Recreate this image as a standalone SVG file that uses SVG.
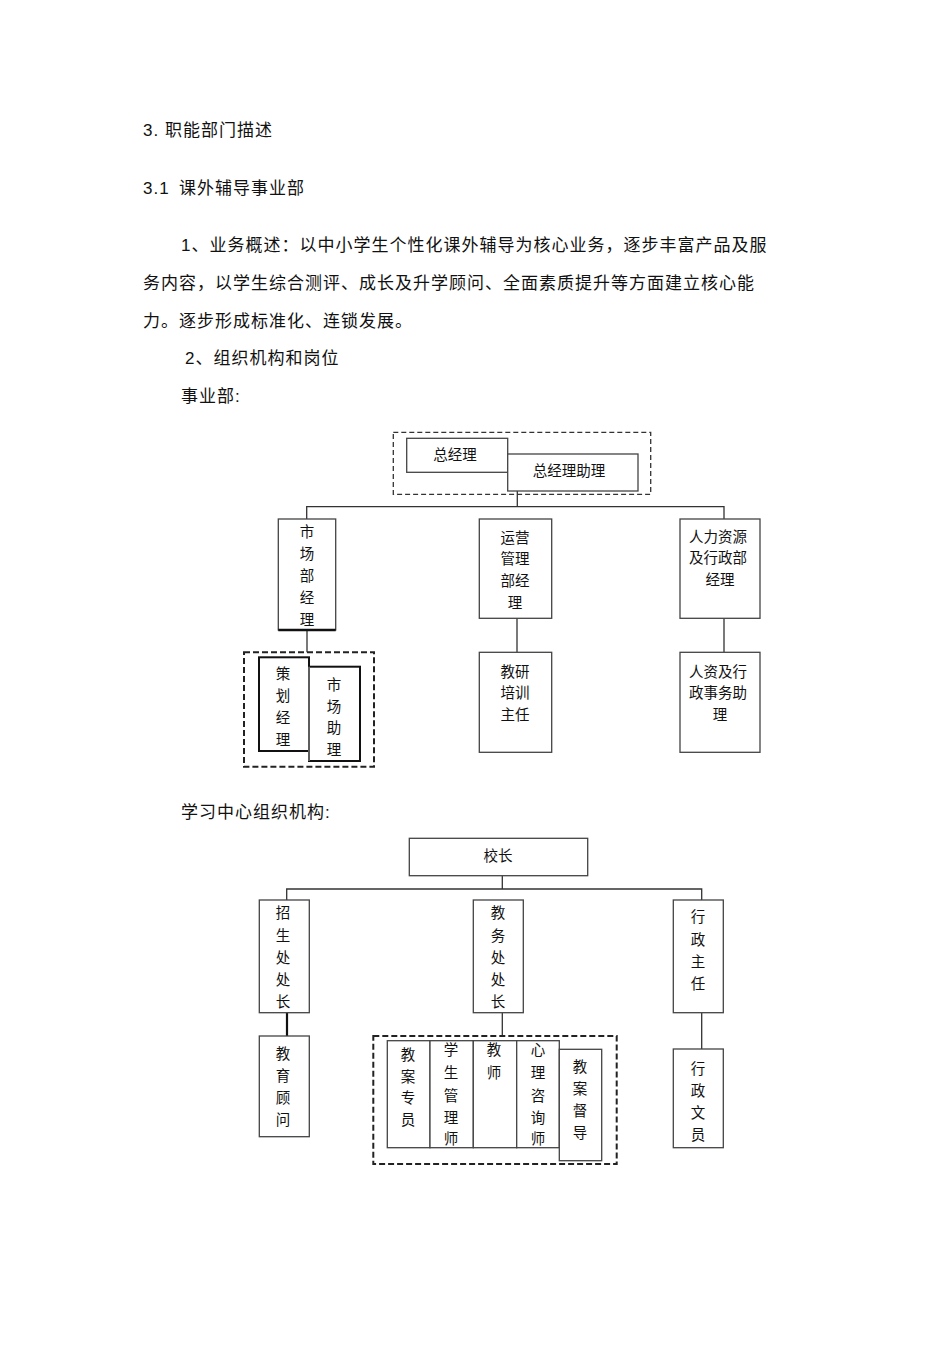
<svg xmlns="http://www.w3.org/2000/svg" width="950" height="1345" viewBox="0 0 950 1345">
<style>
text{font-family:"Liberation Sans","Noto Sans CJK SC",sans-serif;fill:#111}
.p{font-size:17px;letter-spacing:1px}
.b{font-size:14.5px;text-anchor:middle;dominant-baseline:central}
.box{fill:#fff;stroke:#444;stroke-width:1.3}
.thick{fill:#fff;stroke:#111;stroke-width:2}
.dash{fill:none;stroke:#333;stroke-width:1.3;stroke-dasharray:5,3}
.dash2{fill:none;stroke:#222;stroke-width:2;stroke-dasharray:6,3}
.ln{fill:none;stroke:#333;stroke-width:1.3}
</style>
<rect width="950" height="1345" fill="#fff"/>
<g id="text">
<text class="p" x="143" y="136">3. 职能部门描述</text>
<text class="p" x="143" y="194">3.1<tspan x="179">课外辅导事业部</tspan></text>
<text class="p" x="181" y="251">1、业务概述：以中小学生个性化课外辅导为核心业务，逐步丰富产品及服</text>
<text class="p" x="143" y="289">务内容，以学生综合测评、成长及升学顾问、全面素质提升等方面建立核心能</text>
<text class="p" x="143" y="327">力。逐步形成标准化、连锁发展。</text>
<text class="p" x="185" y="364">2、组织机构和岗位</text>
<text class="p" x="181" y="402">事业部:</text>
<text class="p" x="181" y="818">学习中心组织机构:</text>
</g>
<g id="connectors">
<path class="ln" d="M517.3 491V506.7M306.7 519V506.7H724V519"/>
<path class="ln" d="M307 630V652.3M517 618.3V652.3M724 618.3V652.3"/>
<path class="ln" d="M502.3 875.7V889M286.7 900V889H701.7V900"/>
<path class="ln" d="M502.3 1012.7V1036M701.7 1012.7V1049"/>
<path fill="none" stroke="#111" stroke-width="2.2" d="M287 1012.7V1036"/>
</g>
<g id="n-gm-group">
<rect class="dash" x="393.3" y="432.3" width="257.4" height="62"/>
<g id="n-gm"><rect class="box" x="406.7" y="438.3" width="101" height="34"/><text class="b" x="455" y="455">总经理</text></g>
<g id="n-gma"><rect class="box" x="507.7" y="454" width="130.3" height="37"/><text class="b" x="569" y="471">总经理助理</text></g>
</g>
<g id="n-mkt"><rect class="box" x="278.3" y="519" width="57.4" height="111"/><path d="M278.3 630H335.7" stroke="#111" stroke-width="2.4"/>
<text class="b" x="307" y="532">市</text><text class="b" x="307" y="554">场</text><text class="b" x="307" y="576">部</text><text class="b" x="307" y="598">经</text><text class="b" x="307" y="620">理</text></g>
<g id="n-ops"><rect class="box" x="479.3" y="519" width="72.4" height="99.3"/>
<text class="b" x="515" y="538">运营</text><text class="b" x="515" y="559">管理</text><text class="b" x="515" y="581">部经</text><text class="b" x="515" y="603">理</text></g>
<g id="n-hr"><rect class="box" x="680" y="519" width="80" height="99.3"/>
<text class="b" x="718" y="537">人力资源</text><text class="b" x="718" y="558">及行政部</text><text class="b" x="720" y="580">经理</text></g>
<g id="n-mkt-group">
<rect class="dash2" x="244" y="652.3" width="130" height="114.4"/>
<g id="n-plan"><rect class="thick" x="259" y="657.3" width="50" height="93.7"/>
<text class="b" x="283" y="674">策</text><text class="b" x="283" y="696">划</text><text class="b" x="283" y="718">经</text><text class="b" x="283" y="740">理</text></g>
<g id="n-mkta"><rect class="thick" x="309" y="666.7" width="51" height="94.3"/><path d="M309 666.7V761" stroke="#777" stroke-width="1.5"/>
<text class="b" x="334" y="685">市</text><text class="b" x="334" y="707">场</text><text class="b" x="334" y="728">助</text><text class="b" x="334" y="750">理</text></g>
</g>
<g id="n-train"><rect class="box" x="479.3" y="652.3" width="72.4" height="100"/>
<text class="b" x="515" y="672">教研</text><text class="b" x="515" y="693">培训</text><text class="b" x="515" y="715">主任</text></g>
<g id="n-hra"><rect class="box" x="680" y="652.3" width="80" height="100"/>
<text class="b" x="718" y="672">人资及行</text><text class="b" x="718" y="693">政事务助</text><text class="b" x="720" y="715">理</text></g>
<g id="n-principal"><rect class="box" x="409.3" y="838.3" width="178.4" height="37.4"/><text class="b" x="498" y="856">校长</text></g>
<g id="n-enroll"><rect class="box" x="259.3" y="900" width="50" height="112.7"/>
<text class="b" x="283" y="913">招</text><text class="b" x="283" y="936">生</text><text class="b" x="283" y="958">处</text><text class="b" x="283" y="980">处</text><text class="b" x="283" y="1002">长</text></g>
<g id="n-acad"><rect class="box" x="473.3" y="900" width="50" height="112.7"/>
<text class="b" x="498" y="913">教</text><text class="b" x="498" y="936">务</text><text class="b" x="498" y="958">处</text><text class="b" x="498" y="980">处</text><text class="b" x="498" y="1002">长</text></g>
<g id="n-admin"><rect class="box" x="673.3" y="900" width="50" height="112.7"/>
<text class="b" x="698" y="917">行</text><text class="b" x="698" y="940">政</text><text class="b" x="698" y="962">主</text><text class="b" x="698" y="984">任</text></g>
<g id="n-advisor"><rect class="box" x="259.3" y="1036" width="50" height="100.7"/>
<text class="b" x="283" y="1054">教</text><text class="b" x="283" y="1076">育</text><text class="b" x="283" y="1098">顾</text><text class="b" x="283" y="1120">问</text></g>
<g id="n-acad-group">
<rect class="dash2" x="373.3" y="1036" width="243.4" height="128"/>
<g id="n-plan2"><rect class="box" x="387.3" y="1040.7" width="42.7" height="107"/>
<text class="b" x="408" y="1055">教</text><text class="b" x="408" y="1077">案</text><text class="b" x="408" y="1098">专</text><text class="b" x="408" y="1120">员</text></g>
<g id="n-stu"><rect class="box" x="430" y="1040.7" width="43.3" height="107"/>
<text class="b" x="451" y="1050">学</text><text class="b" x="451" y="1073">生</text><text class="b" x="451" y="1096">管</text><text class="b" x="451" y="1118">理</text><text class="b" x="451" y="1139">师</text></g>
<g id="n-teacher"><rect class="box" x="473.3" y="1040.7" width="43.4" height="107"/>
<text class="b" x="494" y="1050">教</text><text class="b" x="494" y="1073">师</text></g>
<g id="n-psy"><rect class="box" x="516.7" y="1040.7" width="42.6" height="107"/>
<text class="b" x="538" y="1050">心</text><text class="b" x="538" y="1073">理</text><text class="b" x="538" y="1096">咨</text><text class="b" x="538" y="1118">询</text><text class="b" x="538" y="1139">师</text></g>
<g id="n-sup"><rect class="box" x="559.3" y="1049.3" width="42.4" height="111.4"/>
<text class="b" x="580" y="1067">教</text><text class="b" x="580" y="1089">案</text><text class="b" x="580" y="1111">督</text><text class="b" x="580" y="1133">导</text></g>
</g>
<g id="n-clerk"><rect class="box" x="673.3" y="1049" width="50" height="98.7"/>
<text class="b" x="698" y="1069">行</text><text class="b" x="698" y="1091">政</text><text class="b" x="698" y="1113">文</text><text class="b" x="698" y="1135">员</text></g>
</svg>
